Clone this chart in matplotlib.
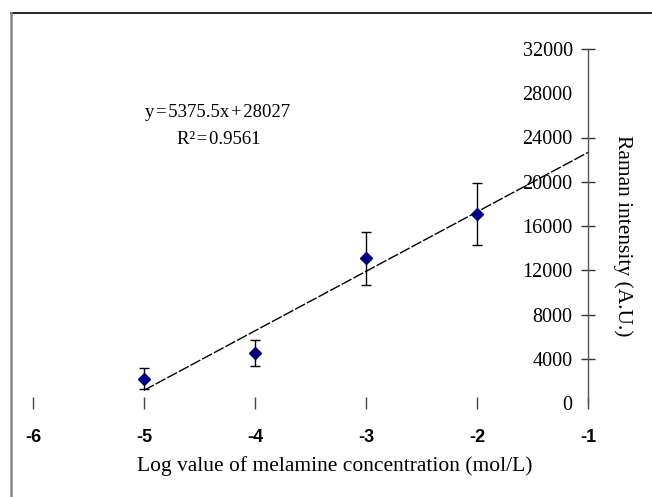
import matplotlib
matplotlib.use("Agg")
import matplotlib.pyplot as plt
from matplotlib.lines import Line2D
import numpy as np

# Data
log_conc = [-5, -4, -3, -2]
intensity = [2200, 4500, 13100, 17100]
err = [950, 1150, 2400, 2800]
slope = 5375.5
intercept = 28027
fit_x = [-5, -1]
x_ticks = [-6, -5, -4, -3, -2, -1]
y_ticks = [0, 4000, 8000, 12000, 16000, 20000, 24000, 28000, 32000]
eq_text = "y\u200a=\u200a5375.5x\u200a+\u200a28027"
r2_text = "R\u00b2\u200a=\u200a0.9561"

W, H = 652, 497
fig = plt.figure(figsize=(W / 100, H / 100), dpi=100)

def px(x0, y0, x1, y1):
    return [x0 / W, 1 - y1 / H, (x1 - x0) / W, (y1 - y0) / H]

ax = fig.add_axes(px(33, 49, 588, 403))
ax.set_xlim(-6, -1)
ax.set_ylim(0, 32000)
ax.patch.set_alpha(0)

for s in ["top", "bottom", "right"]:
    ax.spines[s].set_visible(False)
ax.spines["left"].set_position(("data", -1))
ax.spines["left"].set_color("#555555")
ax.spines["left"].set_linewidth(1.0)

serif = ["Liberation Serif", "DejaVu Serif"]
ax.set_yticks(y_ticks)
ax.set_yticklabels([str(v) for v in y_ticks], fontfamily=serif, fontsize=14.5)
ax.tick_params(axis="y", direction="inout", length=10, width=1.0, color="#333333", pad=6)

ax.set_xticks(x_ticks)
ax.set_xticklabels([str(v) for v in x_ticks], fontfamily="Liberation Sans",
                   fontweight="bold", fontsize=13)
ax.tick_params(axis="x", direction="inout", length=8, width=1.0, color="#444444", pad=15)

# hide ticks not visible in reference
for t in ax.yaxis.get_major_ticks():
    if t.get_loc() in (0, 28000):
        t.tick1line.set_visible(False)

# trend line
fx = np.array(fit_x, dtype=float)
ax.plot(fx, slope * fx + intercept, color="black", lw=1.0, ls=(0, (8, 1.5)))

# data
ax.errorbar(log_conc, intensity, yerr=err, fmt="D", color="#000080", ms=6.5,
            ecolor="black", elinewidth=1.0, capsize=3.5, capthick=1.0, zorder=3)

ax.text(-4.34, 26300, eq_text, fontfamily=serif, fontsize=13.5, ha="center", va="center")
ax.text(-4.33, 23780, r2_text, fontfamily=serif, fontsize=13.5, ha="center", va="center")

fig.text(623 / W, 1 - 236 / H, "Raman intensity (A.U.)", rotation=-90,
         fontfamily=serif, fontsize=15.5, ha="center", va="center")
fig.text(335 / W, 1 - 466 / H, "Log value of melamine concentration (mol/L)",
         fontfamily=serif, fontsize=15.5, ha="center", va="center")

# chart border
fig.add_artist(Line2D([11 / W, 1], [1 - 13 / H, 1 - 13 / H], color="black", lw=1.2,
                      transform=fig.transFigure))
fig.add_artist(Line2D([11 / W, 11 / W], [1 - 13 / H, 0], color="#888888", lw=1.8,
                      transform=fig.transFigure))

fig.savefig("out.png", dpi=100)
